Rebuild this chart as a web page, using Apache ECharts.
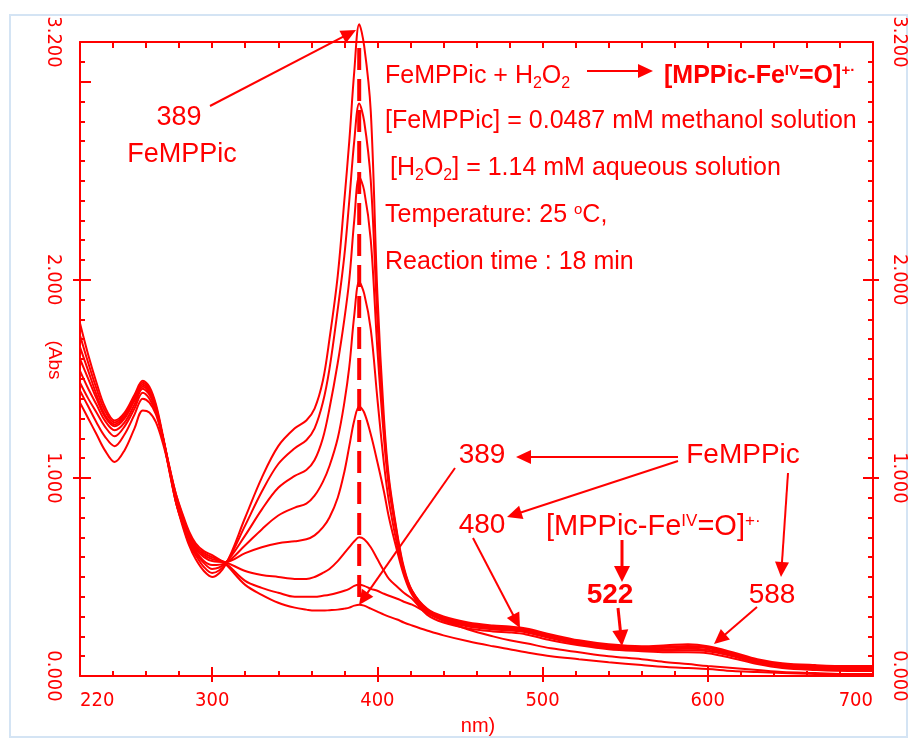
<!DOCTYPE html>
<html>
<head>
<meta charset="utf-8">
<script src="https://cdn.jsdelivr.net/npm/echarts@6/dist/echarts.min.js"></script>
<style>html,body{margin:0;padding:0;background:#fff}#chart{width:909px;height:740px}</style>
</head>
<body>
<div id="chart"></div>
<script>
// wavelength grid (nm) and absorbance, one array per scan
var wavelength = [220,225,230,235,241,247,253,258,262,266,270,274,278,282,286,290,295,300,308,320,
  330,340,350,357,362,367,371,376,380,383,386,389,392,396,400,404,407,412,416,421,
  430,440,455,470,480,490,505,522,540,560,575,588,600,615,630,645,665,685,700];

var scan1 = [1.78,1.62,1.48,1.36,1.29,1.33,1.42,1.49,1.46,1.37,1.22,1.05,0.88,0.76,0.66,0.59,0.53,0.50,0.56,0.80,
  1.00,1.16,1.25,1.29,1.35,1.49,1.70,2.02,2.40,2.70,3.05,3.29,3.18,2.85,1.93,1.30,1.00,0.72,0.55,0.43,
  0.34,0.30,0.27,0.255,0.25,0.24,0.21,0.18,0.16,0.15,0.155,0.16,0.15,0.12,0.085,0.065,0.055,0.05,0.05];
var scan2 = [1.72,1.58,1.45,1.34,1.28,1.32,1.41,1.48,1.45,1.36,1.21,1.04,0.88,0.77,0.67,0.61,0.55,0.52,0.565,0.76,
  0.93,1.07,1.15,1.19,1.25,1.38,1.55,1.85,2.12,2.40,2.70,2.89,2.80,2.50,1.80,1.25,0.98,0.71,0.54,0.43,
  0.335,0.295,0.265,0.25,0.245,0.235,0.205,0.175,0.155,0.145,0.148,0.152,0.145,0.115,0.08,0.06,0.05,0.045,0.045];
var scan3 = [1.66,1.54,1.42,1.32,1.27,1.31,1.40,1.47,1.44,1.35,1.21,1.04,0.88,0.77,0.68,0.62,0.57,0.54,0.57,0.71,
  0.84,0.95,1.01,1.04,1.09,1.20,1.35,1.58,1.80,2.00,2.30,2.52,2.45,2.20,1.65,1.20,0.95,0.70,0.53,0.42,
  0.33,0.29,0.26,0.245,0.24,0.23,0.20,0.17,0.15,0.14,0.142,0.145,0.14,0.11,0.075,0.055,0.045,0.04,0.04];
var scan4 = [1.60,1.50,1.40,1.31,1.26,1.30,1.39,1.46,1.43,1.35,1.21,1.05,0.89,0.78,0.69,0.63,0.58,0.56,0.57,0.66,
  0.74,0.81,0.85,0.87,0.91,0.98,1.06,1.20,1.38,1.56,1.82,1.99,1.93,1.75,1.40,1.07,0.88,0.66,0.52,0.42,
  0.325,0.285,0.255,0.24,0.235,0.225,0.195,0.165,0.145,0.135,0.135,0.138,0.132,0.105,0.07,0.05,0.04,0.035,0.035];
var scan5 = [1.54,1.45,1.37,1.29,1.24,1.28,1.37,1.45,1.42,1.34,1.21,1.05,0.90,0.79,0.70,0.64,0.60,0.58,0.575,0.62,
  0.65,0.67,0.68,0.69,0.71,0.75,0.80,0.90,1.03,1.16,1.29,1.36,1.33,1.22,1.08,0.93,0.80,0.63,0.51,0.41,
  0.32,0.28,0.25,0.235,0.23,0.22,0.19,0.16,0.14,0.13,0.128,0.13,0.125,0.10,0.065,0.045,0.035,0.03,0.03];
var scan6 = [1.48,1.40,1.33,1.26,1.21,1.26,1.35,1.43,1.40,1.33,1.21,1.06,0.91,0.80,0.71,0.65,0.61,0.59,0.575,0.53,
  0.51,0.50,0.49,0.49,0.50,0.52,0.54,0.58,0.62,0.65,0.68,0.70,0.69,0.65,0.59,0.53,0.49,0.45,0.42,0.39,
  0.31,0.27,0.24,0.225,0.22,0.21,0.18,0.155,0.135,0.125,0.12,0.12,0.115,0.09,0.06,0.04,0.03,0.025,0.025];
var scan7 = [1.44,1.36,1.28,1.21,1.16,1.22,1.32,1.40,1.38,1.32,1.20,1.06,0.92,0.81,0.72,0.66,0.62,0.60,0.57,0.48,
  0.445,0.42,0.40,0.40,0.40,0.405,0.41,0.42,0.43,0.44,0.455,0.46,0.455,0.44,0.43,0.415,0.405,0.39,0.375,0.36,
  0.32,0.28,0.235,0.20,0.18,0.165,0.14,0.12,0.10,0.085,0.07,0.06,0.05,0.04,0.03,0.02,0.015,0.01,0.01];
var scan8 = [1.38,1.30,1.22,1.14,1.08,1.14,1.25,1.34,1.33,1.28,1.18,1.05,0.92,0.82,0.73,0.67,0.63,0.61,0.565,0.46,
  0.41,0.37,0.345,0.335,0.33,0.33,0.332,0.335,0.34,0.345,0.355,0.36,0.355,0.34,0.325,0.31,0.30,0.285,0.27,0.255,
  0.23,0.205,0.175,0.15,0.135,0.12,0.10,0.085,0.07,0.055,0.045,0.04,0.035,0.025,0.02,0.015,0.01,0.008,0.008];

var scans = [scan1, scan2, scan3, scan4, scan5, scan6, scan7, scan8];

// dashed marker at the Soret maximum
var soretNm = 389;
var soretDash = [3.17, 0.37];

// tick labels
var xLabels = [220, 300, 400, 500, 600, 700];
var xMajor = [300, 400, 500, 600];
var yLabels = [0, 1, 2, 3.2];
var yMajor = [1, 2];

var RED = '#ff0000';
var tickFont = {color: RED, fontFamily: "'DejaVu Sans Condensed','DejaVu Sans',sans-serif", fontSize: 20};
var SANS = "'Liberation Sans',Arial,sans-serif";

function xAx(extra) {
  var a = {type: 'value', min: 220, max: 700, position: 'bottom',
    axisLine: {show: false, onZero: false, lineStyle: {color: RED, width: 2}},
    axisTick: {show: false, lineStyle: {color: RED, width: 2}},
    axisLabel: {show: false}, splitLine: {show: false}};
  return echarts.util.merge(a, extra, true);
}
function yAx(extra) {
  var a = {type: 'value', min: 0, max: 3.2, position: 'left',
    axisLine: {show: false, onZero: false, lineStyle: {color: RED, width: 2}},
    axisTick: {show: false, lineStyle: {color: RED, width: 2}},
    axisLabel: {show: false}, splitLine: {show: false}};
  return echarts.util.merge(a, extra, true);
}

var series = scans.map(function (s, i) {
  return {
    type: 'line', name: 'scan' + (i + 1), smooth: 0.35, showSymbol: false, clip: false,
    lineStyle: {color: RED, width: 2}, silent: true,
    data: wavelength.map(function (w, j) { return [w, s[j]]; })
  };
});
series.push({
  type: 'line', showSymbol: false, clip: false, silent: true,
  lineStyle: {color: RED, width: 4, type: [22, 9]},
  data: soretDash.map(function (v) { return [soretNm, v]; })
});

function arrow(x1, y1, x2, y2, w) {
  w = w || 2;
  var a = Math.atan2(y2 - y1, x2 - x1), c = Math.cos(a), s = Math.sin(a);
  var L = 13 + w, W = 5 + w;
  return [
    {type: 'line', silent: true, shape: {x1: x1, y1: y1, x2: x2 - c * L * 0.7, y2: y2 - s * L * 0.7},
      style: {stroke: RED, lineWidth: w}},
    {type: 'polygon', silent: true,
      shape: {points: [[x2, y2], [x2 - L * c + W * s, y2 - L * s - W * c], [x2 - L * c - W * s, y2 - L * s + W * c]]},
      style: {fill: RED}}
  ];
}
function txt(x, y, text, size, opts) {
  opts = opts || {};
  var st = {text: text, fill: RED, fontFamily: SANS, fontSize: size, fontWeight: opts.bold ? 'bold' : 'normal',
    align: opts.align || 'left', textAlign: opts.align || 'left',
    verticalAlign: 'middle', textVerticalAlign: 'middle',
    rich: {
      sub: {fontSize: Math.round(size * 0.62), verticalAlign: 'bottom', fill: RED, fontFamily: SANS, padding: [0, 0, -3, 0]},
      sup: {fontSize: Math.round(size * 0.6), verticalAlign: 'top', fill: RED, fontFamily: SANS, fontWeight: opts.bold ? 'bold' : 'normal'}
    }};
  return {type: 'text', x: x, y: y, rotation: opts.rotation || 0, silent: true, style: st};
}

var graphic = [
  {type: 'rect', silent: true, shape: {x: 10, y: 15, width: 897, height: 722},
    style: {fill: 'none', stroke: '#d4e4f4', lineWidth: 2}},
  txt(54, 360, '(Abs', 19, {align: 'center', rotation: -Math.PI / 2}),
  txt(478, 726, 'nm)', 20, {align: 'center'}),
  // upper left label
  txt(179, 118, '389', 27, {align: 'center'}),
  txt(182, 155, 'FeMPPic', 27, {align: 'center'}),
  // reaction conditions
  txt(385, 76, 'FeMPPic + H{sub|2}O{sub|2}', 25),
  txt(664, 76, '[MPPic-Fe{sup|IV}=O]{sup|+·}', 25, {bold: true}),
  txt(385, 121, '[FeMPPic] = 0.0487 mM methanol solution', 25),
  txt(390, 168, '[H{sub|2}O{sub|2}] = 1.14 mM aqueous solution', 25),
  txt(385, 215, 'Temperature: 25 {sup|o}C,', 25),
  txt(385, 262, 'Reaction time : 18 min', 25),
  // band assignments
  txt(482, 455, '389', 28, {align: 'center'}),
  txt(743, 455, 'FeMPPic', 28, {align: 'center'}),
  txt(482, 525, '480', 28, {align: 'center'}),
  txt(546, 527, '[MPPic-Fe{sup|IV}=O]{sup|+·}', 29),
  txt(610, 595, '522', 28, {align: 'center', bold: true}),
  txt(772, 595, '588', 28, {align: 'center'})
].concat(
  arrow(587, 71, 653, 71, 2),
  arrow(210, 106, 356, 30, 2),
  arrow(678, 457, 516, 457, 2),
  arrow(678, 461, 507, 517, 2),
  arrow(622, 540, 622, 582, 3),
  arrow(788, 473, 781, 577, 2),
  arrow(455, 468, 359, 605, 2),
  arrow(473, 538, 520, 628, 2),
  arrow(618, 608, 622, 646, 3),
  arrow(757, 607, 714, 644, 2)
);

var option = {
  backgroundColor: '#ffffff',
  animation: false,
  grid: {left: 80, right: 33, top: 42, bottom: 64},
  xAxis: [
    xAx({axisLine: {show: true},
      axisTick: {show: true, inside: true, length: 9, customValues: xMajor},
      axisLabel: Object.assign({show: true, customValues: xLabels, margin: 15,
        alignMinLabel: 'left', alignMaxLabel: 'right'}, tickFont)}),
    xAx({axisTick: {show: true, inside: false, length: 6, customValues: xMajor}}),
    xAx({interval: 20, axisTick: {show: true, inside: true, length: 5}}),
    xAx({position: 'top', interval: 20, axisLine: {show: true}, axisTick: {show: true, inside: true, length: 6}})
  ],
  yAxis: [
    yAx({interval: 0.1, axisLine: {show: true}, axisTick: {show: true, inside: true, length: 5},
      axisLabel: Object.assign({show: true, customValues: yLabels, rotate: -90, margin: 17,
        formatter: function (v) { return v.toFixed(3); }}, tickFont)}),
    yAx({axisTick: {show: true, inside: true, length: 11, customValues: [1, 2, 3]}}),
    yAx({axisTick: {show: true, inside: false, length: 7, customValues: yMajor}}),
    yAx({position: 'right', interval: 0.1, axisLine: {show: true}, axisTick: {show: true, inside: true, length: 5},
      axisLabel: Object.assign({show: true, customValues: yLabels, rotate: -90, margin: 16,
        formatter: function (v) { return v.toFixed(3); }}, tickFont)}),
    yAx({position: 'right', axisTick: {show: true, inside: true, length: 10, customValues: yMajor}}),
    yAx({position: 'right', axisTick: {show: true, inside: false, length: 6, customValues: yMajor}})
  ],
  series: series,
  graphic: graphic
};

var chart = echarts.init(document.getElementById('chart'), null, {renderer: 'canvas'});
chart.setOption(option);
</script>
</body>
</html>
